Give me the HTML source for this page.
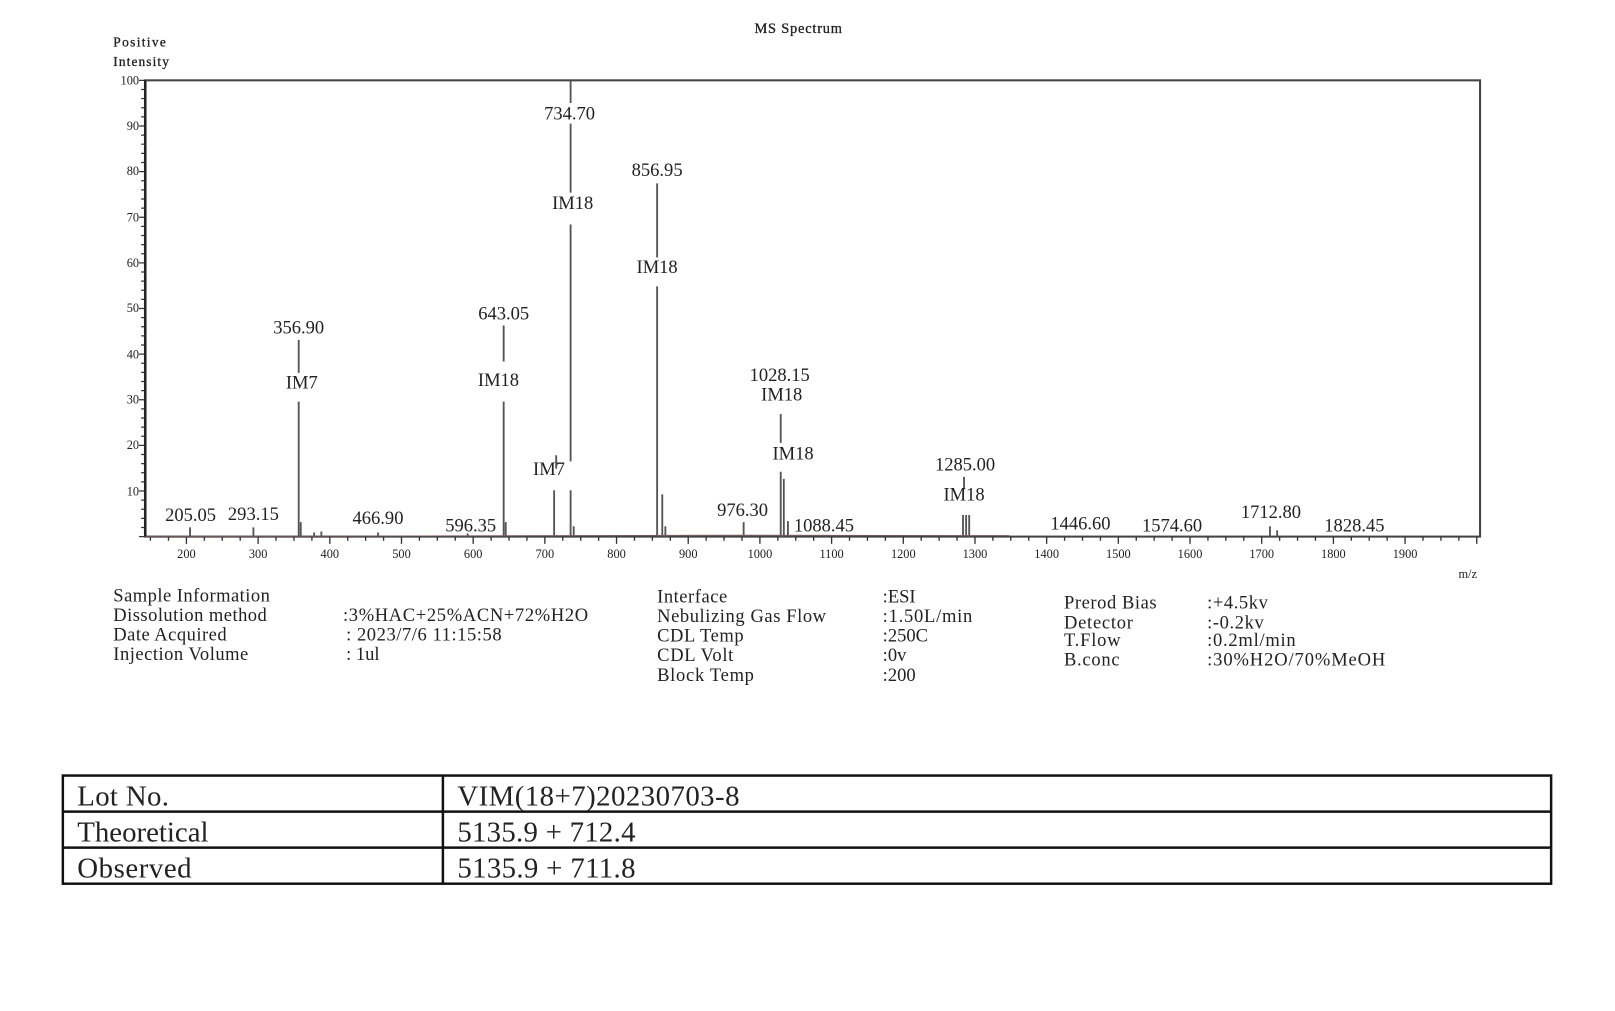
<!DOCTYPE html>
<html><head><meta charset="utf-8"><style>
html,body{margin:0;padding:0;background:#fff;}
svg{display:block;}
text{font-family:"Liberation Serif",serif;fill:#222;}
</style></head><body>
<svg width="1615" height="1011" viewBox="0 0 1568 981.6" xmlns="http://www.w3.org/2000/svg">
<text x="775" y="32" font-size="14" text-anchor="middle" textLength="85" stroke="#222" stroke-width="0.3">MS Spectrum</text>
<text x="110" y="45" font-size="13" textLength="51" stroke="#222" stroke-width="0.3">Positive</text>
<text x="110" y="64" font-size="13" textLength="54" stroke="#222" stroke-width="0.3">Intensity</text>
<rect x="141" y="78" width="1296" height="443" fill="none" stroke="#444" stroke-width="2"/>
<path d="M141 78v443" stroke="#222" stroke-width="2.5"/>
<g stroke="#333" stroke-width="1.2">
<path d="M135 78h6M135 122.3h6M135 166.6h6M135 210.9h6M135 255.2h6M135 299.5h6M135 343.8h6M135 388.1h6M135 432.4h6M135 476.7h6M135 521h6"/>
<path d="M137 86.9h4M137 95.7h4M137 104.6h4M137 113.5h4M137 131.2h4M137 140h4M137 148.9h4M137 157.8h4M137 175.5h4M137 184.3h4M137 193.2h4M137 202.1h4M137 219.8h4M137 228.6h4M137 237.5h4M137 246.4h4M137 264.1h4M137 272.9h4M137 281.8h4M137 290.7h4M137 308.4h4M137 317.2h4M137 326.1h4M137 335h4M137 352.7h4M137 361.5h4M137 370.4h4M137 379.3h4M137 397h4M137 405.8h4M137 414.7h4M137 423.6h4M137 441.3h4M137 450.1h4M137 459h4M137 467.9h4M137 485.6h4M137 494.4h4M137 503.3h4M137 512.2h4"/>
</g>
<g font-size="12" text-anchor="end">
<text x="135" y="82">100</text><text x="135" y="126">90</text><text x="135" y="170">80</text><text x="135" y="215">70</text><text x="135" y="259">60</text><text x="135" y="303">50</text><text x="135" y="348">40</text><text x="135" y="392">30</text><text x="135" y="436">20</text><text x="135" y="481">10</text>
</g>
<g stroke="#333" stroke-width="1.3">
<path d="M181 521v7M250.6 521v7M320.2 521v7M389.8 521v7M459.4 521v7M529 521v7M598.6 521v7M668.2 521v7M737.8 521v7M807.4 521v7M877 521v7M946.6 521v7M1016.2 521v7M1085.8 521v7M1155.4 521v7M1225 521v7M1294.6 521v7M1364.2 521v7M1433.8 521v7"/>
<path d="M146 521v4M163.6 521v4M198.4 521v4M215.8 521v4M233.2 521v4M268 521v4M285.4 521v4M302.8 521v4M337.6 521v4M355 521v4M372.4 521v4M407.2 521v4M424.6 521v4M442 521v4M476.8 521v4M494.2 521v4M511.6 521v4M546.4 521v4M563.8 521v4M581.2 521v4M616 521v4M633.4 521v4M650.8 521v4M685.6 521v4M703 521v4M720.4 521v4M755.2 521v4M772.6 521v4M790 521v4M824.8 521v4M842.2 521v4M859.6 521v4M894.4 521v4M911.8 521v4M929.2 521v4M964 521v4M981.4 521v4M998.8 521v4M1033.6 521v4M1051 521v4M1068.4 521v4M1103.2 521v4M1120.6 521v4M1138 521v4M1172.8 521v4M1190.2 521v4M1207.6 521v4M1242.4 521v4M1259.8 521v4M1277.2 521v4M1312 521v4M1329.4 521v4M1346.8 521v4M1381.6 521v4M1399 521v4M1416.4 521v4"/>
</g>
<g font-size="12" text-anchor="middle">
<text x="181" y="542">200</text><text x="250.6" y="542">300</text><text x="320.2" y="542">400</text><text x="389.8" y="542">500</text><text x="459.4" y="542">600</text><text x="529" y="542">700</text><text x="598.6" y="542">800</text><text x="668.2" y="542">900</text><text x="737.8" y="542">1000</text><text x="807.4" y="542">1100</text><text x="877" y="542">1200</text><text x="946.6" y="542">1300</text><text x="1016.2" y="542">1400</text><text x="1085.8" y="542">1500</text><text x="1155.4" y="542">1600</text><text x="1225" y="542">1700</text><text x="1294.6" y="542">1800</text><text x="1364.2" y="542">1900</text>
</g>
<text x="1425" y="561" font-size="12" text-anchor="middle">m/z</text>
<g stroke="#555" stroke-width="1.8" fill="none">
<path d="M184.5 521v-9M246 521v-9M290 521v-131M290 362v-32M292 521v-14M305 521v-4M312 521v-5M367 521v-4M454 521v-3M489 521v-131M489 351v-35M491 521v-14M538 521v-45M540 455v-13M554 521v-45M554 448v-230M554 187v-67M554 100v-22M557 521v-10M638 521v-243M638 250v-72M643 521v-41M646 521v-10M722 521v-14M758 521v-63M758 430v-28M761 521v-56M765 521v-15M935 521v-21M938 521v-21M941 521v-21M936 475v-12M1233 521v-10M1240 521v-6"/>
</g>
<path d="M141 521 C400 520 700 519 980 520" stroke="#7a5a5a" stroke-width="0.8" fill="none"/>
<g font-size="18" text-anchor="middle">
<text x="185" y="506">205.05</text><text x="246" y="505">293.15</text>
<text x="290" y="324">356.90</text><text x="293" y="377">IM7</text>
<text x="367" y="509">466.90</text><text x="457" y="516">596.35</text>
<text x="489" y="310">643.05</text><text x="484" y="375">IM18</text>
<text x="533" y="461">IM7</text>
<text x="553" y="116">734.70</text><text x="556" y="203">IM18</text>
<text x="638" y="171">856.95</text><text x="638" y="265">IM18</text>
<text x="721" y="501">976.30</text>
<text x="757" y="370">1028.15</text><text x="759" y="389">IM18</text>
<text x="770" y="446">IM18</text>
<text x="800" y="516">1088.45</text>
<text x="937" y="457">1285.00</text><text x="936" y="486">IM18</text>
<text x="1049" y="514">1446.60</text><text x="1138" y="516">1574.60</text>
<text x="1234" y="503">1712.80</text><text x="1315" y="516">1828.45</text>
</g>
<g font-size="18">
<text x="110" y="584" textLength="152">Sample Information</text>
<text x="110" y="603" textLength="149">Dissolution method</text>
<text x="110" y="622" textLength="110">Date Acquired</text>
<text x="110" y="641" textLength="131">Injection Volume</text>
<text x="333" y="603" textLength="238">:3%HAC+25%ACN+72%H2O</text>
<text x="336" y="622" textLength="151">: 2023/7/6 11:15:58</text>
<text x="336" y="641">: 1ul</text>
<text x="638" y="585" textLength="68">Interface</text>
<text x="638" y="604" textLength="164">Nebulizing Gas Flow</text>
<text x="638" y="623" textLength="84">CDL Temp</text>
<text x="638" y="642" textLength="74">CDL Volt</text>
<text x="638" y="661" textLength="94">Block Temp</text>
<text x="857" y="585">:ESI</text>
<text x="857" y="604" textLength="87">:1.50L/min</text>
<text x="857" y="623">:250C</text>
<text x="857" y="642">:0v</text>
<text x="857" y="661">:200</text>
<text x="1033" y="591" textLength="90">Prerod Bias</text>
<text x="1033" y="610" textLength="67">Detector</text>
<text x="1033" y="627" textLength="55">T.Flow</text>
<text x="1033" y="646" textLength="54">B.conc</text>
<text x="1172" y="591" textLength="59">:+4.5kv</text>
<text x="1172" y="610" textLength="55">:-0.2kv</text>
<text x="1172" y="627" textLength="86">:0.2ml/min</text>
<text x="1172" y="646" textLength="173">:30%H2O/70%MeOH</text>
</g>
<g stroke="#111" stroke-width="2.4" fill="none">
<rect x="61" y="753" width="1445" height="105"/>
<path d="M61 788h1445M61 823h1445M430 753v105"/>
</g>
<g font-size="28">
<text x="75" y="782" textLength="89">Lot No.</text><text x="444" y="782" textLength="274">VIM(18+7)20230703-8</text>
<text x="75" y="817">Theoretical</text><text x="444" y="817" textLength="173">5135.9 + 712.4</text>
<text x="75" y="852" textLength="111">Observed</text><text x="444" y="852" textLength="173">5135.9 + 711.8</text>
</g>
</svg>
</body></html>
